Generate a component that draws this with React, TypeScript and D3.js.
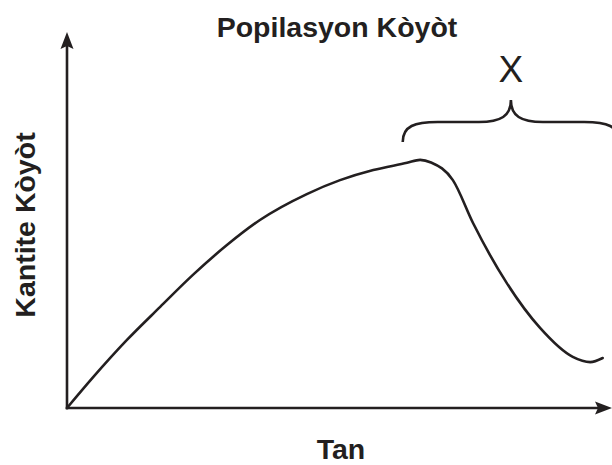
import { useEffect, useRef } from 'react';
import * as d3 from 'd3';

// Tan (time) and kantite kòyòt (coyote count), in arbitrary 0-100 units
const tan = [0, 4.8, 11.0, 17.1, 23.1, 29.4, 35.4, 44.0, 50.1, 56.2, 62.4, 64.8, 66.8, 70.8, 74.5, 80.7, 86.8, 92.8, 96.0, 98.3];
const kantite = [0, 8.2, 18.1, 26.9, 35.4, 43.4, 50.0, 56.9, 60.6, 63.3, 65.2, 66.0, 65.3, 60.6, 49.2, 33.2, 21.3, 13.6, 12.2, 13.3];

// Brace over the decline, in time units
const braceRange = [61.6, 101.3];
const braceLabel = 'X';

const title = 'Popilasyon Kòyòt';
const xLabel = 'Tan';
const yLabel = 'Kantite Kòyòt';

const W = 612;
const H = 465;
const INK = '#231f20';
const FONT = '"Liberation Sans", Arial, Helvetica, sans-serif';

export default function App() {
  const svgRef = useRef<SVGSVGElement>(null);

  useEffect(() => {
    if (!svgRef.current) return;
    const svg = d3.select(svgRef.current);
    svg.selectAll('*').remove();

    const x = d3.scaleLinear().domain([0, 100]).range([67, 612]);
    const y = d3.scaleLinear().domain([0, 100]).range([408, 32]);

    const x0 = x(0);
    const y0 = y(0);

    // axes
    svg.append('line')
      .attr('x1', x0).attr('y1', y0 + 1.2)
      .attr('x2', x0).attr('y2', y(100) + 12)
      .attr('stroke', INK).attr('stroke-width', 2.6);
    svg.append('line')
      .attr('x1', x0 - 1.2).attr('y1', y0)
      .attr('x2', x(100) - 12).attr('y2', y0)
      .attr('stroke', INK).attr('stroke-width', 2.6);

    // arrow heads
    const yt = y(100);
    svg.append('path')
      .attr('d', `M${x0},${yt} L${x0 + 6.5},${yt + 17} L${x0},${yt + 14} L${x0 - 6.5},${yt + 17} Z`)
      .attr('fill', INK);
    const xt = x(100);
    svg.append('path')
      .attr('d', `M${xt},${y0} L${xt - 17},${y0 - 6.5} L${xt - 14},${y0} L${xt - 17},${y0 + 6.5} Z`)
      .attr('fill', INK);

    // population curve
    const pts: [number, number][] = tan.map((t, i) => [t, kantite[i]]);
    const line = d3.line<[number, number]>()
      .x((d) => x(d[0]))
      .y((d) => y(d[1]))
      .curve(d3.curveMonotoneX);
    svg.append('path')
      .datum(pts)
      .attr('d', line)
      .attr('fill', 'none')
      .attr('stroke', INK)
      .attr('stroke-width', 2.6)
      .attr('stroke-linecap', 'round');

    // curly brace
    const bl = x(braceRange[0]);
    const br = x(braceRange[1]);
    const bm = (bl + br) / 2;
    const yEnd = 142;
    const yBar = 122;
    const yTip = 100;
    const bracePath = [
      `M${bl},${yEnd}`,
      `C${bl},${yBar + 4} ${bl + 12},${yBar} ${bl + 35},${yBar}`,
      `L${bm - 32},${yBar}`,
      `C${bm - 10},${yBar} ${bm},${yBar - 6} ${bm},${yTip}`,
      `C${bm},${yBar - 6} ${bm + 10},${yBar} ${bm + 32},${yBar}`,
      `L${br - 35},${yBar}`,
      `C${br - 12},${yBar} ${br},${yBar + 4} ${br},${yEnd}`,
    ].join(' ');
    svg.append('path')
      .attr('d', bracePath)
      .attr('fill', 'none')
      .attr('stroke', INK)
      .attr('stroke-width', 2.6);

    svg.append('text')
      .attr('x', bm)
      .attr('y', 82)
      .attr('text-anchor', 'middle')
      .attr('font-family', FONT)
      .attr('font-size', 37)
      .attr('fill', INK)
      .text(braceLabel);

    // labels
    svg.append('text')
      .attr('x', 337)
      .attr('y', 37)
      .attr('text-anchor', 'middle')
      .attr('font-family', FONT)
      .attr('font-weight', 'bold')
      .attr('font-size', 28.5)
      .attr('fill', INK)
      .text(title);

    svg.append('text')
      .attr('x', 341)
      .attr('y', 459)
      .attr('text-anchor', 'middle')
      .attr('font-family', FONT)
      .attr('font-weight', 'bold')
      .attr('font-size', 28.5)
      .attr('fill', INK)
      .text(xLabel);

    svg.append('text')
      .attr('transform', `translate(35,225) rotate(-90)`)
      .attr('text-anchor', 'middle')
      .attr('font-family', FONT)
      .attr('font-weight', 'bold')
      .attr('font-size', 28.5)
      .attr('fill', INK)
      .text(yLabel);
  }, []);

  return (
    <svg
      ref={svgRef}
      width={W}
      height={H}
      viewBox={`0 0 ${W} ${H}`}
      style={{ position: 'absolute', left: 0, top: 0, background: '#fff', display: 'block' }}
    />
  );
}
